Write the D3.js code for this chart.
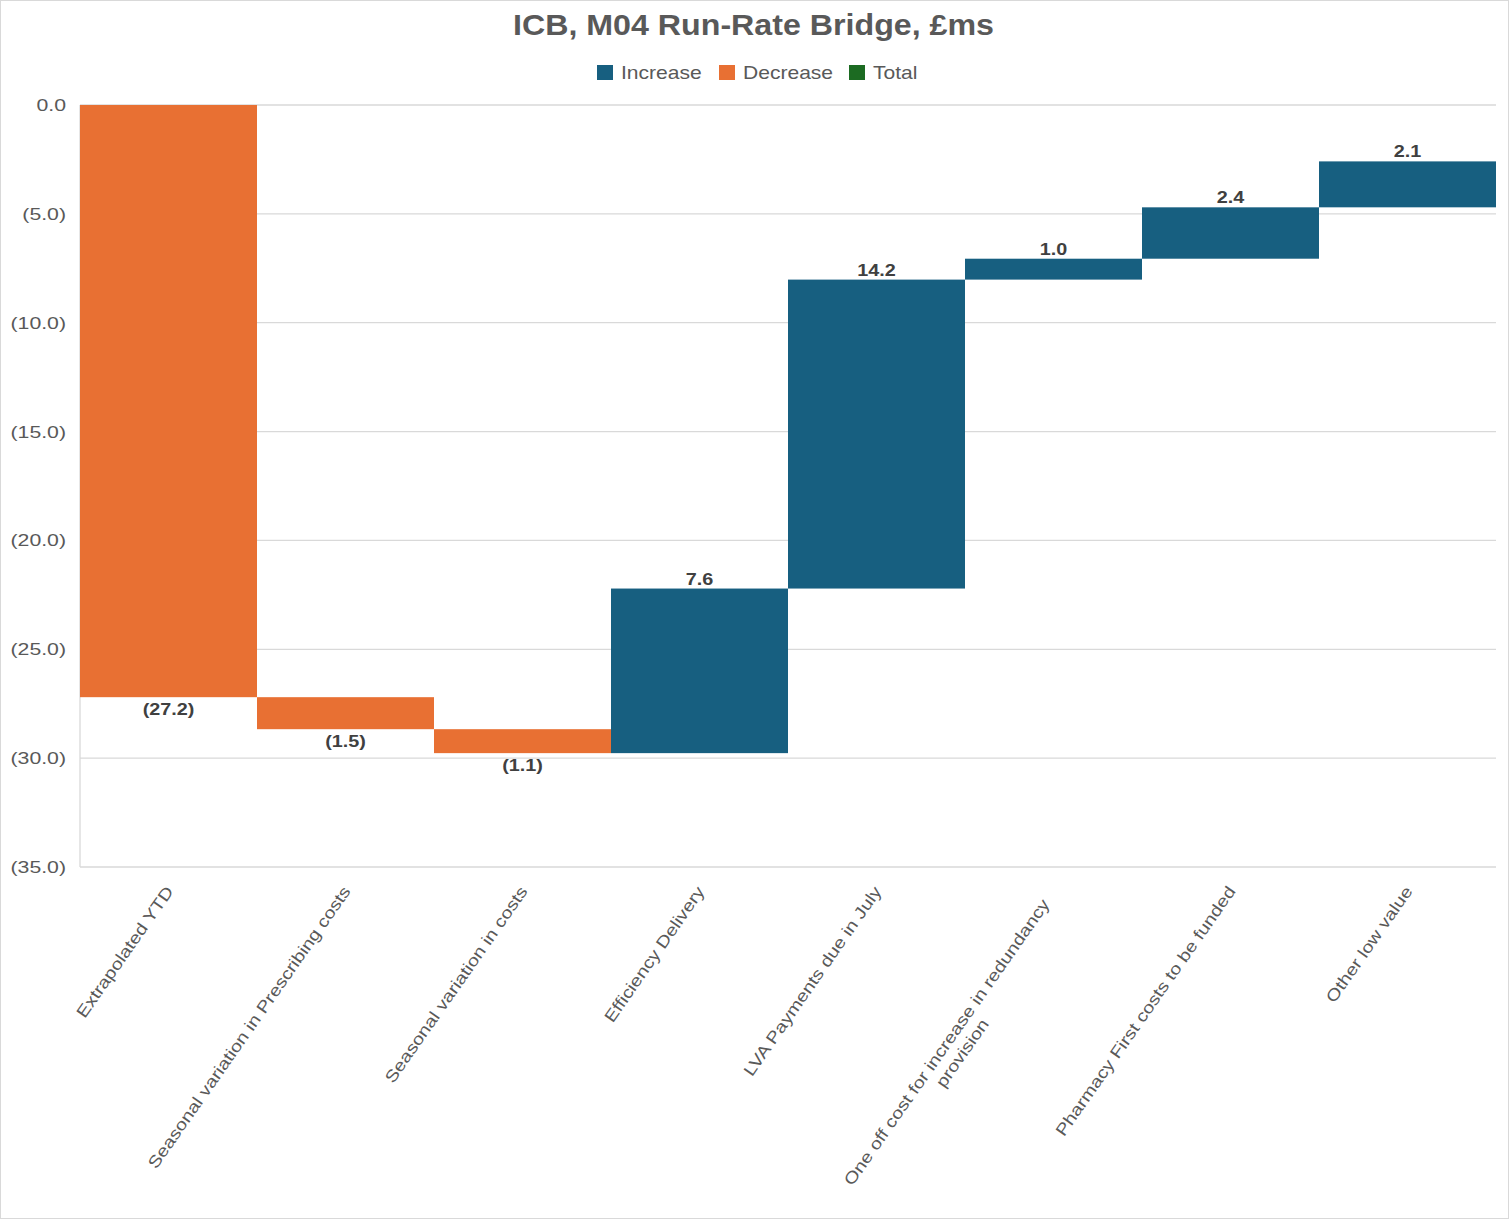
<!DOCTYPE html>
<html>
<head>
<meta charset="utf-8">
<script src="https://cdn.jsdelivr.net/npm/d3@7"></script>
<style>
  body { margin: 0; background: #fff; }
  text { font-family: "Liberation Sans", Arial, sans-serif; }
</style>
</head>
<body>
<svg id="chart"></svg>
<script>
  const width = 1509, height = 1219;

  // data
  const categories = [
    "Extrapolated YTD",
    "Seasonal variation in Prescribing costs",
    "Seasonal variation in costs",
    "Efficiency Delivery",
    "LVA Payments due in July",
    "One off cost for increase in redundancy provision",
    "Pharmacy First costs to be funded",
    "Other low value"
  ];
  const values = [-27.2, -1.47, -1.10, 7.56, 14.19, 0.96, 2.36, 2.11];
  const yTicks = [0, -5, -10, -15, -20, -25, -30, -35];
  const legendItems = ["Increase", "Decrease", "Total"];
  const legendColors = ["#175f80", "#e87033", "#1c6b22"];

  // the source renders its text a little wide
  const stretch = 1.2;

  const svg = d3.select("#chart").attr("width", width).attr("height", height);

  svg.append("rect")
    .attr("x", 0.5).attr("y", 0.5)
    .attr("width", width - 1).attr("height", height - 1)
    .attr("fill", "#fff").attr("stroke", "#d9d9d9");

  const margin = { left: 80, right: 13, top: 105, bottom: 352 };

  const x = d3.scaleBand()
    .domain(categories)
    .range([margin.left, width - margin.right])
    .padding(0);

  const y = d3.scaleLinear()
    .domain([-35, 0])
    .range([height - margin.bottom, margin.top]);

  // running totals for the bridge
  let run = 0;
  const steps = values.map((v, i) => {
    const start = run;
    run += v;
    return { cat: categories[i], value: v, start, end: run };
  });

  const at = (px, py, k) => `translate(${px},${py}) scale(${k},1)`;

  // title
  svg.append("text")
    .attr("transform", at(width / 2 - 1, 35, 1.11))
    .attr("text-anchor", "middle")
    .attr("font-size", 29)
    .attr("font-weight", "bold")
    .attr("fill", "#595959")
    .text("ICB, M04 Run-Rate Bridge, £ms");

  // legend
  const legendX = [597, 719, 849];
  const legend = svg.append("g");
  legendItems.forEach((name, i) => {
    legend.append("rect")
      .attr("x", legendX[i]).attr("y", 65)
      .attr("width", 16).attr("height", 15)
      .attr("fill", legendColors[i]);
    legend.append("text")
      .attr("transform", at(legendX[i] + 24, 79, 1.17))
      .attr("font-size", 18)
      .attr("fill", "#595959")
      .text(name);
  });

  // gridlines
  svg.append("g")
    .selectAll("line")
    .data(yTicks)
    .join("line")
    .attr("x1", margin.left).attr("x2", width - margin.right)
    .attr("y1", d => y(d)).attr("y2", d => y(d))
    .attr("stroke", "#d9d9d9")
    .attr("stroke-width", 1.3);

  svg.append("line")
    .attr("x1", margin.left).attr("x2", margin.left)
    .attr("y1", y(0)).attr("y2", y(-35))
    .attr("stroke", "#d9d9d9")
    .attr("stroke-width", 1.3);

  // y tick labels
  const fmt = d => {
    const s = d3.format(".1f")(Math.abs(d));
    return d < 0 && s !== "0.0" ? `(${s})` : s;
  };
  svg.append("g")
    .selectAll("text")
    .data(yTicks)
    .join("text")
    .attr("transform", d => at(66, y(d), 1.25))
    .attr("dy", "0.35em")
    .attr("text-anchor", "end")
    .attr("font-size", 17)
    .attr("fill", "#595959")
    .text(fmt);

  // bars
  svg.append("g")
    .selectAll("rect")
    .data(steps)
    .join("rect")
    .attr("x", d => x(d.cat))
    .attr("width", x.bandwidth())
    .attr("y", d => y(Math.max(d.start, d.end)))
    .attr("height", d => Math.abs(y(d.start) - y(d.end)))
    .attr("fill", d => d.value >= 0 ? legendColors[0] : legendColors[1]);

  // data labels
  svg.append("g")
    .selectAll("text")
    .data(steps)
    .join("text")
    .attr("transform", d => at(x(d.cat) + x.bandwidth() / 2, d.value >= 0 ? y(d.end) - 4 : y(d.end) + 18, stretch))
    .attr("text-anchor", "middle")
    .attr("font-size", 16.5)
    .attr("font-weight", "bold")
    .attr("fill", "#404040")
    .text(d => fmt(d.value));

  // category labels, rotated
  const catG = svg.append("g")
    .selectAll("g")
    .data(categories)
    .join("g")
    .attr("transform", d => `translate(${x(d) + x.bandwidth() / 2 + 1},${height - margin.bottom + 21}) rotate(-55) scale(${stretch},1)`);

  catG.each(function(name) {
    const g = d3.select(this);
    const maxW = 300;
    const words = name.split(" ");
    const lines = [];
    let line = [];
    const probe = g.append("text").attr("font-size", 16.5);
    words.forEach(w => {
      const test = line.concat(w).join(" ");
      probe.text(test);
      if (probe.node().getComputedTextLength() > maxW && line.length) {
        lines.push(line.join(" "));
        line = [w];
      } else {
        line.push(w);
      }
    });
    lines.push(line.join(" "));
    probe.text(lines[0]);
    const firstW = probe.node().getComputedTextLength();
    probe.remove();

    // wrapped labels sit a little further down the slope
    const shift = lines.length > 1 ? -13 : 0;
    lines.forEach((t, i) => {
      g.append("text")
        .attr("x", shift + (i === 0 ? 0 : -firstW / 2))
        .attr("y", i * 19)
        .attr("dy", "0.35em")
        .attr("text-anchor", i === 0 ? "end" : "middle")
        .attr("font-size", 16.5)
        .attr("fill", "#595959")
        .text(t);
    });
  });
</script>
</body>
</html>
